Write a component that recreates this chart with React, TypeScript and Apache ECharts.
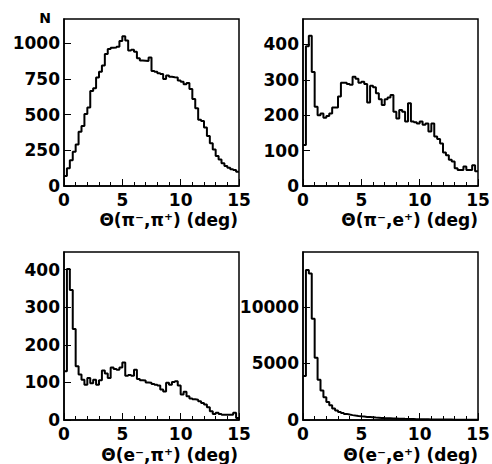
import React, { useEffect, useRef } from "react";
import * as echarts from "echarts";

const BIN_WIDTH = 0.25;
const X_TICKS = [0, 5, 10, 15];

// Theta(pi-, pi+)
const PIPI = [70, 125, 180, 240, 290, 380, 420, 505, 550, 665, 685, 760, 800, 845, 925,
  960, 968, 970, 975, 1015, 1050, 1020, 950, 955, 940, 895, 880, 878, 875, 900,
  805, 800, 790, 785, 750, 775, 765, 762, 760, 740, 730, 712, 722, 680, 610,
  545, 465, 455, 410, 350, 300, 255, 210, 185, 160, 140, 128, 118, 112, 100];
// Theta(pi-, e+)
const PIE = [116, 395, 425, 322, 224, 200, 205, 193, 198, 205, 222, 222, 253, 292, 292,
  288, 286, 309, 303, 292, 295, 288, 236, 283, 279, 262, 245, 229, 245, 250,
  257, 210, 191, 215, 210, 182, 234, 182, 180, 177, 182, 173, 177, 154, 177,
  140, 133, 120, 95, 87, 74, 69, 50, 45, 45, 55, 45, 45, 59, 42];
// Theta(e-, pi+)
const EPI = [130, 402, 346, 242, 143, 121, 107, 94, 112, 98, 107, 94, 106, 132, 124,
  112, 140, 136, 134, 140, 153, 118, 120, 118, 134, 109, 106, 105, 100, 99,
  96, 94, 92, 81, 76, 99, 94, 101, 103, 92, 68, 75, 63, 57, 55,
  54, 50, 45, 41, 34, 23, 16, 19, 16, 14, 14, 14, 14, 19, 5];
// Theta(e-, e+)
const EE = [3900, 13250, 12950, 8950, 5500, 3550, 2600, 2000, 1600, 1300, 1020, 850, 700, 610, 540,
  480, 430, 390, 355, 325, 300, 275, 255, 235, 215, 200, 185, 170, 158, 148,
  138, 128, 118, 110, 102, 95, 88, 82, 76, 71, 66, 62, 58, 54, 50,
  47, 44, 41, 38, 36, 34, 32, 30, 28, 26, 25, 24, 22, 21, 20];

const Y_TICKS = [
  [0, 250, 500, 750, 1000],
  [0, 100, 200, 300, 400],
  [0, 100, 200, 300, 400],
  [0, 5000, 10000],
];
const Y_MAX = [1170, 472, 447, 14850];
const TITLES = ["Θ(π⁻,π⁺) (deg)", "Θ(π⁻,e⁺) (deg)", "Θ(e⁻,π⁺) (deg)", "Θ(e⁻,e⁺) (deg)"];
const SERIES = [PIPI, PIE, EPI, EE];

const FONT = "DejaVu Sans";

const GRIDS = [
  { left: 64, top: 19, width: 175, height: 167 },
  { left: 303, top: 19, width: 175, height: 167 },
  { left: 64, top: 252, width: 175, height: 168 },
  { left: 303, top: 252, width: 175, height: 168 },
];
const TITLE_POS = [
  [238, 220],
  [478, 220],
  [238, 455],
  [478, 455],
];

function toSteps(vals: number[]) {
  const pts: number[][] = vals.map((v, i) => [i * BIN_WIDTH, v]);
  pts.push([vals.length * BIN_WIDTH, vals[vals.length - 1]]);
  return pts;
}

export default function App() {
  const ref = useRef<HTMLDivElement>(null);
  useEffect(() => {
    if (!ref.current) return;
    const chart = echarts.init(ref.current, null, { renderer: "svg" });
    const labelStyle = {
      color: "#000",
      fontFamily: FONT,
      fontWeight: "bold",
      fontSize: 17,
      lineHeight: 16,
      formatter: (v: number) => String(v),
    };
    const option: any = {
      animation: false,
      backgroundColor: "#fff",
      grid: GRIDS.map((g) => ({
        ...g,
        show: true,
        borderColor: "#000",
        borderWidth: 1.5,
        backgroundColor: "transparent",
        containLabel: false,
        outerBoundsMode: "none",
      })),
      xAxis: GRIDS.map((_, i) => ({
        type: "value",
        gridIndex: i,
        min: 0,
        max: 15,
        interval: 5,
        axisLine: { show: true, onZero: false, lineStyle: { color: "#000", width: 1.5 } },
        axisTick: { show: true, inside: true, length: 7, lineStyle: { color: "#000", width: 1 } },
        minorTick: { show: true, splitNumber: 5, length: 4, lineStyle: { color: "#000", width: 1 } },
        splitLine: { show: false },
        minorSplitLine: { show: false },
        axisLabel: { ...labelStyle, margin: 6, customValues: X_TICKS },
      })),
      yAxis: GRIDS.map((_, i) => ({
        type: "value",
        gridIndex: i,
        min: 0,
        max: Y_MAX[i],
        axisLine: { show: true, onZero: false, lineStyle: { color: "#000", width: 1.5 } },
        axisTick: { show: true, inside: true, length: 7, lineStyle: { color: "#000", width: 1 }, customValues: Y_TICKS[i] },
        splitLine: { show: false },
        axisLabel: { ...labelStyle, margin: 4, customValues: Y_TICKS[i] },
      })),
      series: SERIES.map((vals, i) => ({
        type: "line",
        xAxisIndex: i,
        yAxisIndex: i,
        step: "end",
        symbol: "none",
        lineStyle: { color: "#000", width: 2 },
        data: toSteps(vals),
        z: 3,
      })),
      graphic: [
        ...TITLES.map((t, i) => ({
          type: "text",
          x: TITLE_POS[i][0],
          y: TITLE_POS[i][1],
          style: {
            text: t,
            fill: "#000",
            fontFamily: FONT,
            fontWeight: "bold",
            fontSize: 17,
            lineHeight: 16,
            textAlign: "right",
            textVerticalAlign: "middle",
          },
        })),
        {
          type: "text",
          x: 45,
          y: 18,
          style: {
            text: "N",
            fill: "#000",
            fontFamily: FONT,
            fontWeight: "bold",
            fontSize: 14,
            textAlign: "center",
            textVerticalAlign: "middle",
          },
        },
      ],
    };
    chart.setOption(option);
    return () => chart.dispose();
  }, []);
  return (
    <div
      ref={ref}
      style={{ position: "absolute", left: 0, top: 0, width: 492, height: 464 }}
    />
  );
}
